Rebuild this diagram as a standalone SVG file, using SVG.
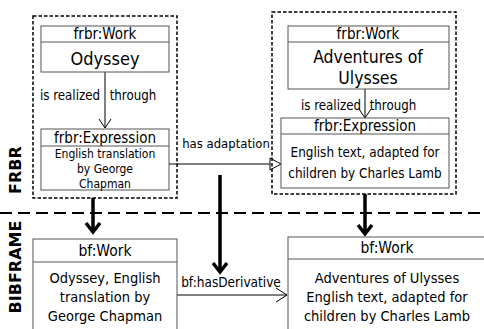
<svg xmlns="http://www.w3.org/2000/svg" width="484" height="329" viewBox="0 0 484 329">
<style>
text{font-family:"DejaVu Sans Condensed","DejaVu Sans",sans-serif;fill:#000;text-anchor:middle}
.box{fill:#fff;stroke:#555;stroke-width:1}
.grp{fill:none;stroke:#000;stroke-width:1.5;stroke-dasharray:3.5 2}
.thin{fill:none;stroke:#000;stroke-width:1}
.thick{fill:none;stroke:#000;stroke-width:3.5}
.sep{fill:none;stroke:#000;stroke-width:2;stroke-dasharray:12 6}
.lbl{font-family:"DejaVu Sans","Verdana",sans-serif;font-weight:bold;font-size:16px}
</style>
<rect width="484" height="329" fill="#fff"/>
<g id="connectors">
<line class="sep" x1="0" y1="213" x2="484" y2="213"/>
<line class="thin" x1="105" y1="72" x2="105" y2="128"/>
<polyline class="thin" points="99,119 105,128 111,119"/>
<line class="thin" x1="365" y1="89" x2="365" y2="117"/>
<polyline class="thin" points="359,109 365,118 371,109"/>
<line class="thin" x1="169" y1="164" x2="270" y2="164"/>
<polygon class="thin" points="270,158 281,164 270,170" fill="#fff"/>
<line class="thin" x1="177" y1="295" x2="287" y2="295"/>
<polyline class="thin" points="276,288 287,295 276,302"/>
<line class="thick" x1="93" y1="198" x2="93" y2="232"/>
<polyline class="thick" points="86,223 93,232 100,223"/>
<line class="thick" x1="220" y1="175" x2="220" y2="272"/>
<polyline class="thick" points="213,263 220,272 227,263"/>
<line class="thick" x1="365" y1="194" x2="365" y2="234"/>
<polyline class="thick" points="358,225 365,234 372,225"/>
<text x="70" y="100" font-size="13.2">is realized</text>
<text x="133" y="100" font-size="13.2">through</text>
<text x="331" y="110" font-size="13.2">is realized</text>
<text x="393" y="110" font-size="13.2">through</text>
<text x="226" y="148" font-size="13">has adaptation</text>
<text x="231" y="287" font-size="13.5">bf:hasDerivative</text>
</g>
<g id="frbr-left">
<rect class="grp" x="33" y="16" width="144" height="182"/>
</g>
<g id="left-work">
<rect class="box" x="41" y="26" width="128" height="46"/>
<line class="box" x1="41" y1="42" x2="169" y2="42"/>
<text x="105" y="39" font-size="15">frbr:Work</text>
<text x="105" y="65" font-size="18">Odyssey</text>
</g>
<g id="left-expression">
<rect class="box" x="41" y="129" width="128" height="61"/>
<line class="box" x1="41" y1="146" x2="169" y2="146"/>
<text x="105" y="143" font-size="15">frbr:Expression</text>
<text x="105" y="158" font-size="12">English translation</text>
<text x="105" y="173" font-size="12">by George</text>
<text x="105" y="188" font-size="12">Chapman</text>
</g>
<g id="frbr-right">
<rect class="grp" x="272" y="12" width="184" height="182"/>
</g>
<g id="right-work">
<rect class="box" x="288" y="26" width="161" height="63"/>
<line class="box" x1="288" y1="42" x2="449" y2="42"/>
<text x="368" y="39" font-size="15">frbr:Work</text>
<text x="368" y="63" font-size="17.5">Adventures of</text>
<text x="368" y="84" font-size="17.5">Ulysses</text>
</g>
<g id="right-expression">
<rect class="box" x="281" y="118" width="168" height="70"/>
<line class="box" x1="281" y1="134" x2="449" y2="134"/>
<text x="365" y="131" font-size="15">frbr:Expression</text>
<text x="365" y="157" font-size="13.4">English text, adapted for</text>
<text x="365" y="178" font-size="13.4">children by Charles Lamb</text>
</g>
<g id="bf-left">
<rect class="box" x="33" y="239" width="144" height="100"/>
<line class="box" x1="33" y1="262" x2="177" y2="262"/>
<text x="105" y="256" font-size="15.5">bf:Work</text>
<text x="105" y="283" font-size="14.5">Odyssey, English</text>
<text x="105" y="302" font-size="14.5">translation by</text>
<text x="105" y="321" font-size="14.5">George Chapman</text>
</g>
<g id="bf-right">
<rect class="box" x="288" y="237" width="206" height="100"/>
<line class="box" x1="288" y1="259" x2="484" y2="259"/>
<text x="387" y="253" font-size="15.5">bf:Work</text>
<text x="387" y="283" font-size="14.5">Adventures of Ulysses</text>
<text x="387" y="302" font-size="14.5">English text, adapted for</text>
<text x="387" y="321" font-size="14.5">children by Charles Lamb</text>
</g>
<g id="labels">
<text class="lbl" transform="translate(21,170) rotate(-90)">FRBR</text>
<text class="lbl" transform="translate(21,267) rotate(-90)">BIBFRAME</text>
</g>
</svg>
